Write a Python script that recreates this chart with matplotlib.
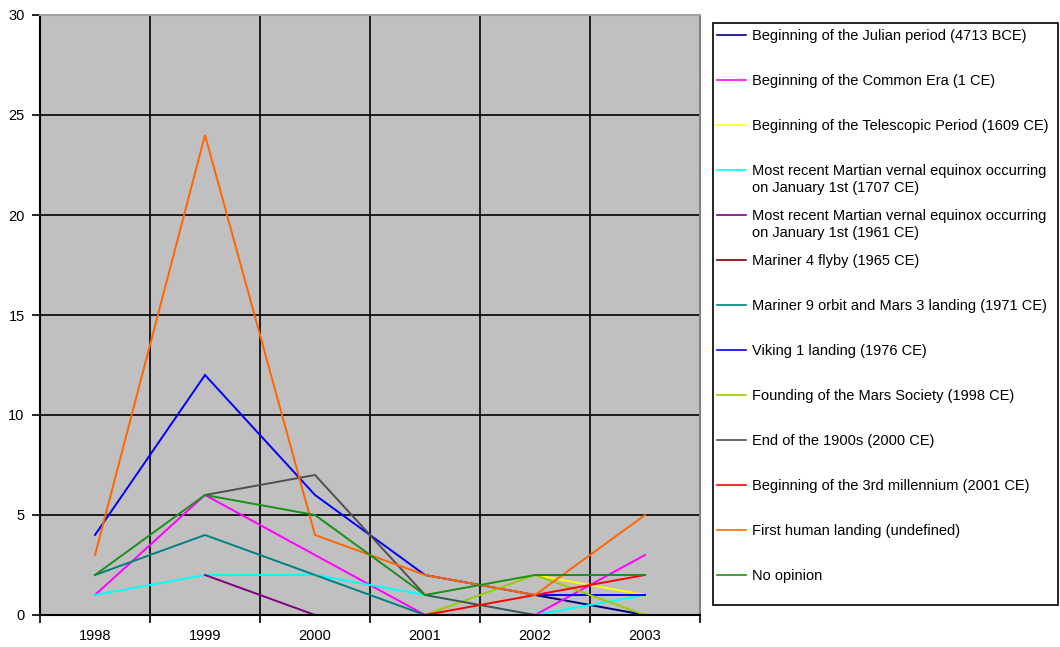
import matplotlib
matplotlib.use("Agg")
import matplotlib.pyplot as plt
from matplotlib.lines import Line2D
from matplotlib.patches import Rectangle
import numpy as np

plt.rcParams['font.family'] = ['Liberation Sans', 'DejaVu Sans']

years = ["1998", "1999", "2000", "2001", "2002", "2003"]
N = None

labels = [
    "Beginning of the Julian period (4713 BCE)",
    "Beginning of the Common Era (1 CE)",
    "Beginning of the Telescopic Period (1609 CE)",
    "Most recent Martian vernal equinox occurring\non January 1st (1707 CE)",
    "Most recent Martian vernal equinox occurring\non January 1st (1961 CE)",
    "Mariner 4 flyby (1965 CE)",
    "Mariner 9 orbit and Mars 3 landing (1971 CE)",
    "Viking 1 landing (1976 CE)",
    "Founding of the Mars Society (1998 CE)",
    "End of the 1900s (2000 CE)",
    "Beginning of the 3rd millennium (2001 CE)",
    "First human landing (undefined)",
    "No opinion",
]

julian      = [N, N, N, N, 1, 0]
common_era  = [1, 6, 3, 0, 0, 3]
telescopic  = [N, N, N, N, 2, 1]
equinox1707 = [1, 2, 2, 1, 0, 1]
equinox1961 = [N, 2, 0, N, N, N]
mariner4    = [N, N, N, 0, 0, 0]
mariner9    = [2, 4, 2, 0, N, N]
viking1     = [4, 12, 6, 2, 1, 1]
mars_soc    = [N, N, N, 0, 2, 0]
end_1900s   = [N, 6, 7, 1, 0, 0]
millennium3 = [N, N, N, 0, 1, 2]
human_land  = [3, 24, 4, 2, 1, 5]
no_opinion  = [2, 6, 5, 1, 2, 2]

series = [julian, common_era, telescopic, equinox1707, equinox1961, mariner4,
          mariner9, viking1, mars_soc, end_1900s, millennium3, human_land, no_opinion]

colors = ["#000080", "#FF00FF", "#FFFF00", "#00FFFF", "#800080", "#800000",
          "#008080", "#0000FF", "#99CC00", "#505050", "#FF0000", "#FF6600", "#189018"]

W, H = 1060, 647
fig = plt.figure(figsize=(W / 100, H / 100), dpi=100)
ax = fig.add_axes([40 / W, 1 - 615 / H, 660 / W, 600 / H])
ax.set_facecolor("#C0C0C0")

x = np.arange(len(years))
for vals, c, lab in zip(series, colors, labels):
    y = np.array([np.nan if v is None else v for v in vals], dtype=float)
    ax.plot(x, y, color=c, lw=1.4, label=lab, solid_joinstyle="miter")

ax.set_xlim(-0.5, len(years) - 0.5)
ax.set_ylim(0, 30)
ax.set_yticks(np.arange(0, 31, 5))
ax.set_xticks(x)
ax.set_xticklabels(years)
ax.set_xticks(np.arange(-0.5, len(years), 1.0), minor=True)
ax.tick_params(axis="x", which="major", length=0, pad=10, labelsize=10.5)
ax.tick_params(axis="x", which="minor", length=6, width=1.2, direction="out", color="black")
ax.tick_params(axis="y", which="major", length=6, width=1.2, direction="out", labelsize=10.5, pad=5)
ax.grid(True, axis="y", which="major", color="black", lw=1.2)
ax.grid(True, axis="x", which="minor", color="black", lw=1.2)
ax.set_axisbelow(True)
for s in ["left", "bottom"]:
    ax.spines[s].set_color("black")
    ax.spines[s].set_linewidth(1.5)
ax.spines["top"].set_color("#A0A0A0")
ax.spines["right"].set_color("#808080")
ax.spines["top"].set_linewidth(1.5)
ax.spines["right"].set_linewidth(1.5)

# legend drawn manually
lx0, ly0, lx1, ly1 = 713, 23, 1058, 605
fig.patches.append(Rectangle((lx0 / W, 1 - ly1 / H), (lx1 - lx0) / W, (ly1 - ly0) / H,
                             transform=fig.transFigure, facecolor="white",
                             edgecolor="black", lw=1.2))
y0 = 35
step = 45
for i, (c, lab) in enumerate(zip(colors, labels)):
    yy = y0 + i * step
    fig.lines.append(Line2D([717 / W, 746 / W], [1 - yy / H, 1 - yy / H],
                            transform=fig.transFigure, color=c, lw=1.2))
    fig.text(752 / W, 1 - (yy - 6) / H, lab, ha="left", va="top",
             fontsize=10.5, linespacing=1.25)

fig.savefig("out.png", dpi=100)
